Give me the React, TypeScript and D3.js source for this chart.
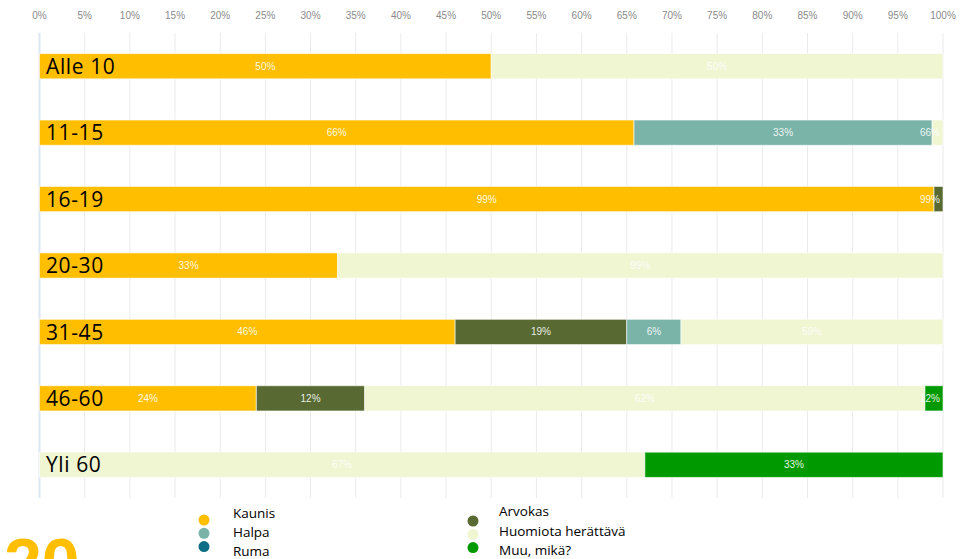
import React from "react";
import * as d3 from "d3";

const categories = ["Alle 10", "11-15", "16-19", "20-30", "31-45", "46-60", "Yli 60"];
const seriesNames = ["Kaunis", "Arvokas", "Halpa", "Ruma", "Huomiota herättävä", "Muu, mikä?"];
const seriesColors = ["#FFBF00", "#586A32", "#7AB3A8", "#0E6E86", "#F0F5D2", "#009A00"];

const kaunis = [50, 65.8, 99, 33, 46, 24, 0];
const arvokas = [0, 0, 1, 0, 19, 12, 0];
const halpa = [0, 33, 0, 0, 6, 0, 0];
const ruma = [0, 0, 0, 0, 0, 0, 0];
const huomiota = [50, 1.2, 0, 67, 29, 62, 67];
const muu = [0, 0, 0, 0, 0, 2, 33];

const kaunisLabels = ["50%", "66%", "99%", "33%", "46%", "24%", ""];
const arvokasLabels = ["", "", "99%", "", "19%", "12%", ""];
const halpaLabels = ["", "33%", "", "", "6%", "", ""];
const rumaLabels = ["", "", "", "", "", "", ""];
const huomiotaLabels = ["50%", "66%", "", "99%", "59%", "62%", "67%"];
const muuLabels = ["", "", "", "", "", "12%", "33%"];

const tickValues = d3.range(0, 101, 5);

const legendLeft = ["Kaunis", "Halpa", "Ruma"];
const legendRight = ["Arvokas", "Huomiota herättävä", "Muu, mikä?"];

export default function App() {
  const W = 967, H = 559;
  const values = [kaunis, arvokas, halpa, ruma, huomiota, muu];
  const labels = [kaunisLabels, arvokasLabels, halpaLabels, rumaLabels, huomiotaLabels, muuLabels];
  const rows = categories.map((c, i) => {
    const o: any = { cat: c };
    seriesNames.forEach((s, k) => (o[s] = values[k][i]));
    return o;
  });
  const stacked = d3.stack<any>().keys(seriesNames)(rows);

  const x = d3.scaleLinear().domain([0, 100]).range([39.5, 943]);
  const y = d3.scaleBand<string>().domain(categories).range([33, 498]).paddingInner(0.62).paddingOuter(0.31);
  const bh = y.bandwidth();
  const colorOf = d3.scaleOrdinal<string, string>().domain(seriesNames).range(seriesColors);

  const labelFont = "'Liberation Sans', Arial, sans-serif";
  const catFont = "'Open Sans', 'Noto Sans', sans-serif";

  return (
    <svg width={W} height={H} style={{ position: "absolute", left: 0, top: 0, background: "#fff" }}>
      {tickValues.map((t) => (
        <line key={"g" + t} x1={x(t)} x2={x(t)} y1={33} y2={498} stroke="#ebebeb" strokeWidth={1} />
      ))}
      <line x1={x(0)} x2={x(0)} y1={33} y2={498} stroke="#dce7f4" strokeWidth={2} />
      {tickValues.map((t) => (
        <text key={"t" + t} x={x(t)} y={19} textAnchor="middle" fontSize={10} fill="#8a8a8a" fontFamily={labelFont}>
          {t + "%"}
        </text>
      ))}
      {stacked.map((layer) => (
        <g key={layer.key}>
          {layer.map((d, i) => {
            const w = x(d[1]) - x(d[0]);
            if (w <= 0) return null;
            return (
              <rect
                key={i}
                x={x(d[0])}
                y={y(categories[i])!}
                width={w}
                height={bh}
                fill={colorOf(layer.key)}
                stroke="#ffffff"
                strokeOpacity={0.6}
                strokeWidth={1}
              />
            );
          })}
        </g>
      ))}
      {stacked.map((layer, k) => (
        <g key={"l" + layer.key}>
          {layer.map((d, i) => {
            const lab = labels[k][i];
            if (!lab) return null;
            const cx = Math.min((x(d[0]) + x(d[1])) / 2, 930);
            return (
              <text
                key={i}
                x={cx}
                y={y(categories[i])! + bh / 2 + 3.5}
                textAnchor="middle"
                fontSize={10}
                fill="#ffffff"
                fillOpacity={0.9}
                fontFamily={labelFont}
              >
                {lab}
              </text>
            );
          })}
        </g>
      ))}
      {categories.map((c) => (
        <text key={"c" + c} x={46} y={y(c)! + bh - 5} fontSize={21} letterSpacing={0.6} fill="#000" fontFamily={catFont}>
          {c}
        </text>
      ))}
      {legendLeft.map((s, i) => (
        <g key={"ll" + s}>
          <circle cx={204} cy={520 + i * 13.3} r={5.5} fill={colorOf(s)} />
          <text x={233} y={518 + i * 19} fontSize={13.5} fill="#000" fontFamily={catFont}>
            {s}
          </text>
        </g>
      ))}
      {legendRight.map((s, i) => (
        <g key={"lr" + s}>
          <circle cx={473} cy={521 + i * 13.3} r={5.5} fill={colorOf(s)} />
          <text x={499} y={516 + i * 19.5} fontSize={13.5} fill="#000" fontFamily={catFont}>
            {s}
          </text>
        </g>
      ))}
      <text x={4} y={586} fontSize={68} fontWeight="bold" fill="#FFBF00" fontFamily={labelFont}>
        20
      </text>
    </svg>
  );
}
